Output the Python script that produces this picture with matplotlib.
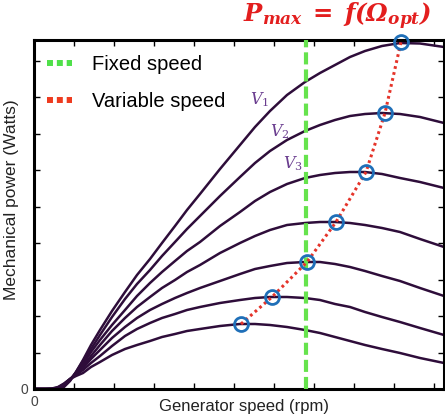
import matplotlib
matplotlib.use("Agg")
import numpy as np
import matplotlib.pyplot as plt
from matplotlib.lines import Line2D

plt.rcParams['font.family'] = ['Liberation Sans', 'DejaVu Sans']
plt.rcParams['mathtext.fontset'] = 'custom'
plt.rcParams['mathtext.rm'] = 'DejaVu Serif'
plt.rcParams['mathtext.it'] = 'DejaVu Serif:italic'
plt.rcParams['mathtext.bf'] = 'DejaVu Serif:italic:bold'

# ---- data (arbitrary units, no scale shown) ----
speed = [0, 12, 18, 24, 30, 36, 42, 49, 57, 66, 78, 91, 103, 116, 128, 141,
         153, 166, 186, 206, 221, 236, 253, 271, 286, 301, 316, 331, 348, 366,
         386, 410]
power_v1 = [0, 0, 0, 0.5, 2, 8, 17, 29, 44, 59, 78, 97, 114, 130, 146, 163,
            179, 195, 220, 244, 262, 278, 294, 307, 316, 324, 332, 338, 343,
            346, 345.5, 342]
power_v2 = [0, 0, 0, 0.5, 3, 8.5, 17, 28, 40, 54, 72, 90, 105, 119, 133, 147,
            160, 173, 193, 212, 226, 238, 249, 258, 264, 269, 273, 275, 276,
            275, 272, 266]
power_v3 = [0, 0, 0, 0.5, 3.5, 9, 16, 25, 37, 49, 64, 79, 93, 106, 117, 128,
            138, 147, 163, 177, 188, 197, 205, 211, 214, 216, 217, 217, 215,
            211, 207, 201]
power_v4 = [0, 0, 0, 1, 4, 9.5, 16, 23, 33, 44, 58, 71, 82, 92, 101, 109,
            117, 124, 136, 146, 153, 159, 164, 166, 167, 167, 166, 164, 161,
            157, 150, 142]
power_v5 = [0, 0, 0, 1, 4.5, 10, 15, 21, 30, 39, 51, 62, 71, 79, 85, 91,
            96, 101, 108, 115, 120, 123, 126, 127, 127, 125, 122, 118, 113,
            108, 101, 93]
power_v6 = [0, 0, 0.2, 1.5, 5, 10, 14, 19, 26, 33, 43, 53, 60, 66, 71, 75,
            79, 82, 86, 89, 91, 92, 92, 91, 89, 85, 82, 77, 72, 67, 61, 54]
power_v7 = [0, 0, 0.5, 2, 5.5, 10, 13, 16, 22, 27, 34, 40, 44, 48, 52, 55,
            58, 60, 63, 65, 65, 64, 62, 59, 56, 52, 48, 44, 40, 36, 31, 26]
curves = [power_v1, power_v2, power_v3, power_v4, power_v5, power_v6, power_v7]

opt_speed = [207, 238, 273, 302, 332, 351, 367]
opt_power = [65, 92, 127, 167, 217, 276, 347]

fixed_speed = 272
curve_labels = ['$V_1$', '$V_2$', '$V_3$']
curve_label_pos = [(226, 289), (246, 257), (259, 225)]

xlim = (0, 410)
ylim = (0, 349)
xticks = np.arange(0, 410, 40)
yticks = np.arange(0, 349, 36.5)

# ---- figure ----
fig = plt.figure(figsize=(4.45, 4.2), dpi=100)
ax = fig.add_axes([34 / 445, 31 / 420, 410 / 445, 349 / 420])

for p in curves:
    ax.plot(speed, p, color='#2e0d3a', lw=1.8, solid_capstyle='round',
            solid_joinstyle='round', zorder=2)

ax.axvline(fixed_speed, color='#66e34d', lw=3, linestyle=(0, (2.9, 1.2)), zorder=3)
ax.plot(opt_speed, opt_power, color='#e5342a', lw=2.2, linestyle=(0, (0.9, 1.1)),
        zorder=4, clip_on=False)
ax.plot(opt_speed, opt_power, linestyle='none', marker='o', ms=10, mfc='none',
        mec='#1f6fb8', mew=2, zorder=5, clip_on=False)

for lab, (lx, ly) in zip(curve_labels, curve_label_pos):
    ax.text(lx, ly, lab, color='#6a3d8f', fontsize=11.5, ha='center', va='center')

ax.set_xlim(*xlim)
ax.set_ylim(*ylim)
ax.set_xticks(xticks)
ax.set_xticklabels(['0'] + [''] * (len(xticks) - 1))
ax.set_yticks(yticks)
ax.set_yticklabels(['0'] + [''] * (len(yticks) - 1))
ax.tick_params(direction='in', length=4, width=1, top=True, right=True,
               labelsize=10, labelcolor='#444444', pad=4)
for s in ax.spines.values():
    s.set_linewidth(2.2)
    s.set_color('black')

fig.text(12 / 445, 1 - 200 / 420, 'Mechanical power (Watts)', rotation=90,
         ha='center', va='center', fontsize=12.5, color='#222222')
fig.text(244 / 445, 1 - 407 / 420, 'Generator speed (rpm)', ha='center',
         va='center', fontsize=12, color='#222222')
fig.text(337 / 445, 1 - 16 / 420,
         r'$\mathbf{P_{max}}\;\mathbf{=}\;\mathbf{f(\Omega_{opt})}$',
         ha='center', va='center', fontsize=17.5, color='#e31e1e')

handles = [Line2D([], [], color='#4fe04a', lw=4.3, linestyle=(0, (1, 0.65))),
           Line2D([], [], color='#ee3b1f', lw=4.3, linestyle=(0, (1, 0.65)))]
ax.legend(handles, ['Fixed speed', 'Variable speed'], loc='upper left',
          bbox_to_anchor=(0.032, 0.958), frameon=False, fontsize=14.5,
          borderpad=0, borderaxespad=0, handlelength=1.25, handletextpad=1.0,
          labelspacing=0.9)

fig.savefig('out.png', dpi=100)
